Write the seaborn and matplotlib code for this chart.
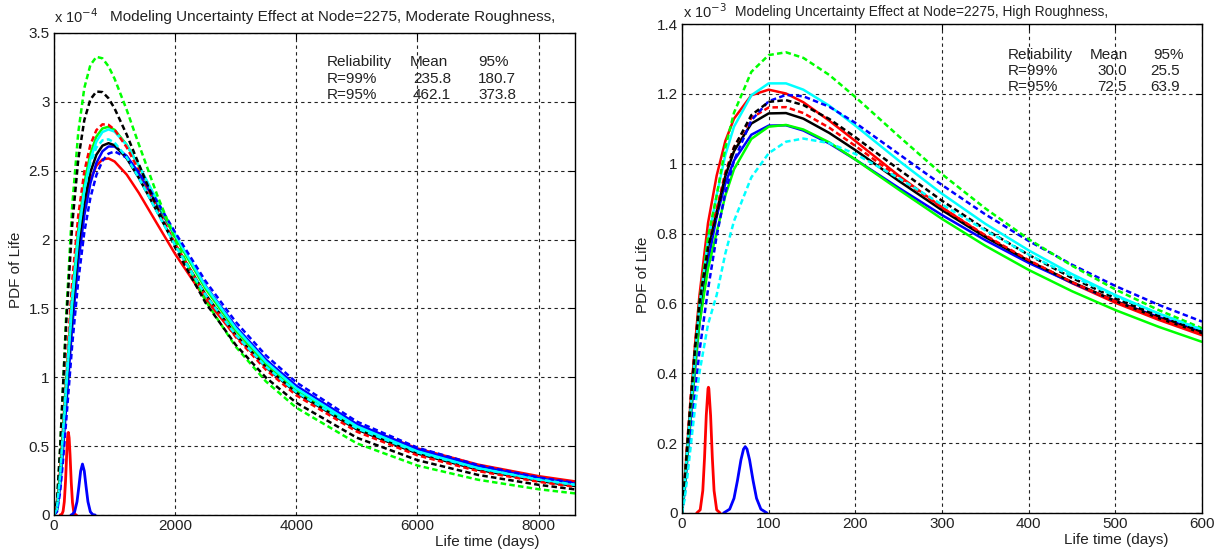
import numpy as np
import pandas as pd
import matplotlib
matplotlib.use("Agg")
import matplotlib.pyplot as plt
import seaborn as sns

# ---------------- data: left panel (Moderate roughness), PDF in units of 1e-4 ----------------
XL = [0, 50, 100, 150, 200, 300, 400, 500, 600, 700, 800, 900, 1000, 1200, 1400, 1700,
      2000, 2500, 3000, 3500, 4000, 5000, 6000, 7000, 8000, 8600]
L_green_dash = [0, 0.090, 0.458, 0.948, 1.435, 2.239, 2.776, 3.100, 3.267, 3.327, 3.316, 3.258, 3.168, 2.942, 2.692, 2.327, 2.000, 1.556, 1.222, 0.969, 0.779, 0.520, 0.359, 0.256, 0.187, 0.157]
L_black_dash = [0, 0.104, 0.474, 0.938, 1.384, 2.105, 2.580, 2.867, 3.017, 3.075, 3.071, 3.026, 2.952, 2.762, 2.548, 2.231, 1.942, 1.542, 1.235, 0.997, 0.815, 0.561, 0.398, 0.291, 0.219, 0.186]
L_red_dash = [0, 0.059, 0.314, 0.672, 1.044, 1.697, 2.173, 2.493, 2.688, 2.795, 2.837, 2.833, 2.798, 2.670, 2.501, 2.231, 1.969, 1.592, 1.292, 1.054, 0.869, 0.605, 0.433, 0.319, 0.241, 0.205]
L_green = [0, 0.048, 0.271, 0.599, 0.951, 1.590, 2.072, 2.408, 2.623, 2.748, 2.807, 2.819, 2.797, 2.689, 2.535, 2.276, 2.020, 1.644, 1.340, 1.097, 0.907, 0.633, 0.455, 0.335, 0.253, 0.216]
L_cyan = [0, 0.043, 0.251, 0.563, 0.904, 1.532, 2.015, 2.357, 2.580, 2.713, 2.781, 2.800, 2.784, 2.686, 2.539, 2.287, 2.035, 1.661, 1.356, 1.112, 0.920, 0.644, 0.462, 0.341, 0.257, 0.219]
L_cyan_dash = [0, 0.054, 0.289, 0.620, 0.968, 1.586, 2.043, 2.357, 2.556, 2.669, 2.721, 2.728, 2.704, 2.597, 2.449, 2.201, 1.957, 1.599, 1.308, 1.076, 0.893, 0.629, 0.455, 0.338, 0.257, 0.220]
L_black = [0, 0.042, 0.242, 0.543, 0.871, 1.478, 1.943, 2.273, 2.488, 2.616, 2.682, 2.700, 2.685, 2.590, 2.448, 2.205, 1.962, 1.602, 1.308, 1.072, 0.887, 0.621, 0.446, 0.329, 0.248, 0.211]
L_blue = [0, 0.033, 0.204, 0.476, 0.781, 1.366, 1.833, 2.175, 2.408, 2.556, 2.641, 2.676, 2.676, 2.607, 2.483, 2.257, 2.022, 1.665, 1.369, 1.128, 0.938, 0.660, 0.477, 0.353, 0.267, 0.228]
L_red = [0, 0.066, 0.316, 0.646, 0.980, 1.556, 1.974, 2.257, 2.435, 2.536, 2.582, 2.589, 2.567, 2.472, 2.339, 2.116, 1.895, 1.568, 1.299, 1.082, 0.908, 0.654, 0.483, 0.366, 0.282, 0.244]
L_blue_dash = [0, 0.024, 0.163, 0.399, 0.677, 1.233, 1.698, 2.052, 2.302, 2.469, 2.572, 2.624, 2.640, 2.595, 2.488, 2.278, 2.052, 1.699, 1.402, 1.158, 0.963, 0.678, 0.489, 0.362, 0.273, 0.233]

L_spike_red_x = [100, 130, 150, 170, 190, 210, 225, 237, 250, 265, 285, 305, 325, 345, 370]
L_spike_red_y = [0, 0.006, 0.027, 0.096, 0.243, 0.446, 0.566, 0.600, 0.560, 0.436, 0.235, 0.091, 0.025, 0.005, 0]
L_spike_blue_x = [280, 300, 340, 380, 410, 440, 470, 500, 530, 560, 600, 640, 680]
L_spike_blue_y = [0, 0.003, 0.023, 0.097, 0.204, 0.319, 0.370, 0.319, 0.204, 0.097, 0.023, 0.003, 0]

# ---------------- data: right panel (High roughness), PDF in units of 1e-3 ----------------
XR = [0, 3, 6, 10, 15, 20, 30, 40, 50, 60, 80, 100, 120, 140, 170, 200, 250, 300, 350, 400, 450, 500, 550, 600]
R_green_dash = [0, 0.08, 0.18, 0.31, 0.46, 0.60, 0.79, 0.909, 1.046, 1.146, 1.263, 1.311, 1.319, 1.303, 1.254, 1.191, 1.079, 0.970, 0.872, 0.784, 0.708, 0.640, 0.581, 0.529]
R_blue_dash = [0, 0.05, 0.12, 0.22, 0.34, 0.46, 0.64, 0.793, 0.917, 1.009, 1.124, 1.179, 1.197, 1.193, 1.163, 1.117, 1.028, 0.939, 0.855, 0.779, 0.711, 0.650, 0.596, 0.548]
R_cyan = [0, 0.08, 0.18, 0.30, 0.45, 0.59, 0.78, 0.910, 1.025, 1.106, 1.196, 1.230, 1.230, 1.212, 1.166, 1.109, 1.009, 0.914, 0.828, 0.752, 0.684, 0.624, 0.571, 0.525]
R_red = [0, 0.09, 0.19, 0.32, 0.48, 0.62, 0.83, 0.966, 1.065, 1.129, 1.196, 1.212, 1.201, 1.176, 1.123, 1.065, 0.966, 0.875, 0.793, 0.721, 0.658, 0.602, 0.553, 0.509]
R_black_dash = [0, 0.09, 0.19, 0.32, 0.47, 0.60, 0.76, 0.852, 0.966, 1.046, 1.139, 1.177, 1.182, 1.168, 1.128, 1.076, 0.984, 0.894, 0.812, 0.739, 0.673, 0.615, 0.564, 0.519]
R_red_dash = [0, 0.10, 0.20, 0.33, 0.48, 0.61, 0.77, 0.870, 0.975, 1.048, 1.131, 1.161, 1.162, 1.145, 1.103, 1.051, 0.961, 0.874, 0.795, 0.724, 0.661, 0.606, 0.556, 0.513]
R_black = [0, 0.08, 0.18, 0.30, 0.45, 0.58, 0.76, 0.863, 0.965, 1.036, 1.115, 1.144, 1.145, 1.129, 1.088, 1.039, 0.951, 0.867, 0.790, 0.722, 0.661, 0.607, 0.558, 0.515]
R_blue = [0, 0.06, 0.15, 0.27, 0.41, 0.54, 0.72, 0.849, 0.944, 1.009, 1.083, 1.109, 1.110, 1.095, 1.058, 1.012, 0.931, 0.853, 0.781, 0.716, 0.659, 0.607, 0.561, 0.520]
R_green = [0, 0.07, 0.16, 0.28, 0.42, 0.54, 0.70, 0.803, 0.909, 0.984, 1.071, 1.106, 1.111, 1.098, 1.061, 1.012, 0.926, 0.842, 0.765, 0.696, 0.635, 0.581, 0.533, 0.490]
R_cyan_dash = [0, 0.04, 0.10, 0.19, 0.30, 0.40, 0.54, 0.624, 0.743, 0.836, 0.961, 1.030, 1.063, 1.072, 1.059, 1.028, 0.959, 0.883, 0.809, 0.740, 0.678, 0.621, 0.571, 0.525]

R_spike_red_x = [17, 21, 24, 26, 28, 30, 30.5, 31, 33, 35, 37, 40, 44]
R_spike_red_y = [0, 0.009, 0.064, 0.158, 0.279, 0.356, 0.360, 0.356, 0.279, 0.158, 0.064, 0.009, 0]
R_spike_blue_x = [48, 55, 60, 64, 68, 71, 73, 75, 78, 82, 86, 91, 98]
R_spike_blue_y = [0, 0.011, 0.042, 0.093, 0.152, 0.183, 0.190, 0.183, 0.152, 0.093, 0.042, 0.011, 0]

# tick labels / text
L_xticks = [0, 2000, 4000, 6000, 8000]
L_yticks = [0, 0.5, 1, 1.5, 2, 2.5, 3, 3.5]
L_yticklabels = ["0", "0.5", "1", "1.5", "2", "2.5", "3", "3.5"]
R_xticks = [0, 100, 200, 300, 400, 500, 600]
R_yticks = [0, 0.2, 0.4, 0.6, 0.8, 1.0, 1.2, 1.4]
R_yticklabels = ["0", "0.2", "0.4", "0.6", "0.8", "1", "1.2", "1.4"]

L_title = "Modeling Uncertainty Effect at Node=2275, Moderate Roughness,"
R_title = "Modeling Uncertainty Effect at Node=2275, High Roughness,"
L_table = [["Reliability", "Mean", "95%"], ["R=99%", "235.8", "180.7"], ["R=95%", "462.1", "373.8"]]
R_table = [["Reliability", "Mean", "95%"], ["R=99%", "30.0", "25.5"], ["R=95%", "72.5", "63.9"]]

# ---------------- styling ----------------
sns.set_style("white")
plt.rcParams['font.family'] = ['Liberation Sans', 'DejaVu Sans']

W, H = 1217, 554
fig = plt.figure(figsize=(W / 100, H / 100), dpi=100)

def fx(px):
    return px / W

def fy(py):
    return 1 - py / H

axL = fig.add_axes([fx(54), fy(515), fx(575) - fx(54), fy(33) - fy(515)])
axR = fig.add_axes([fx(682), fy(513), fx(1202) - fx(682), fy(24) - fy(513)])

RED, BLUE, GREEN, BLACK, CYAN = "#ff0000", "#0000ff", "#00ff00", "#000000", "#00ffff"
DASH = (2.2, 1.3)
LW = 1.8

def draw(ax, x, series):
    for vals, color, dashed in series:
        sns.lineplot(x=x, y=vals, ax=ax, color=color, linewidth=LW, sort=False,
                     estimator=None, legend=False)
        line = ax.lines[-1]
        if dashed:
            line.set_dashes(DASH)

left_series = [
    (L_red, RED, False), (L_blue, BLUE, False), (L_green, GREEN, False),
    (L_black, BLACK, False), (L_cyan, CYAN, False),
    (L_red_dash, RED, True), (L_blue_dash, BLUE, True), (L_green_dash, GREEN, True),
    (L_black_dash, BLACK, True), (L_cyan_dash, CYAN, True),
]
right_series = [
    (R_red, RED, False), (R_blue, BLUE, False), (R_green, GREEN, False),
    (R_black, BLACK, False), (R_cyan, CYAN, False),
    (R_red_dash, RED, True), (R_blue_dash, BLUE, True), (R_green_dash, GREEN, True),
    (R_black_dash, BLACK, True), (R_cyan_dash, CYAN, True),
]
draw(axL, XL, left_series)
draw(axR, XR, right_series)

for ax, xs, ys, color in [(axL, L_spike_red_x, L_spike_red_y, RED), (axL, L_spike_blue_x, L_spike_blue_y, BLUE),
                          (axR, R_spike_red_x, R_spike_red_y, RED), (axR, R_spike_blue_x, R_spike_blue_y, BLUE)]:
    sns.lineplot(x=xs, y=ys, ax=ax, color=color, linewidth=2.0, sort=False, estimator=None, legend=False)

def style(ax, xlim, ylim, xt, yt, ytl):
    ax.set_xlim(*xlim)
    ax.set_ylim(*ylim)
    ax.set_xticks(xt)
    ax.set_xticklabels([str(v) for v in xt])
    ax.set_yticks(yt)
    ax.set_yticklabels(ytl)
    ax.grid(True, color="#222222", linestyle=(0, (3, 3)), linewidth=0.8)
    ax.set_axisbelow(True)
    ax.tick_params(direction="in", length=4, width=0.8, labelsize=11, colors="black",
                   top=True, right=True, pad=3)
    ax.tick_params(axis="both", which="both", labelcolor="#222222")
    for s in ax.spines.values():
        s.set_visible(True)
        s.set_color("black")
        s.set_linewidth(1.0)
    ax.set_xlabel("")
    ax.set_ylabel("")

style(axL, (0, 8600), (0, 3.5), L_xticks, L_yticks, L_yticklabels)
style(axR, (0, 600), (0, 1.4), R_xticks, R_yticks, R_yticklabels)

# offset exponents + titles
fig.text(fx(54), fy(17), r"x 10$^{-4}$", fontsize=10.5, va="center", ha="left", color="#222222")
fig.text(fx(110), fy(17), L_title, fontsize=11.0, va="center", ha="left", color="#222222")
fig.text(fx(683), fy(12), r"x 10$^{-3}$", fontsize=10.5, va="center", ha="left", color="#222222")
fig.text(fx(735), fy(12), R_title, fontsize=9.9, va="center", ha="left", color="#222222")

# axis labels
fig.text(fx(487), fy(542), "Life time (days)", fontsize=11, ha="center", va="center", color="#222222")
fig.text(fx(1116), fy(540), "Life time (days)", fontsize=11, ha="center", va="center", color="#222222")
fig.text(fx(16), fy(270), "PDF of Life", fontsize=11, ha="center", va="center", rotation=90, color="#222222")
fig.text(fx(643), fy(275), "PDF of Life", fontsize=11, ha="center", va="center", rotation=90, color="#222222")

# tables
for table, cols, rows in [(L_table, [[327, 410, 478], [327, 413, 478], [327, 413, 478]], [62, 79, 95]),
                          (R_table, [[1008, 1090, 1153], [1008, 1097, 1150], [1008, 1097, 1150]], [55, 71, 87])]:
    for r, row in enumerate(table):
        for c, txt in enumerate(row):
            fig.text(fx(cols[r][c]), fy(rows[r]), txt, fontsize=11, ha="left", va="center", color="#222222")

fig.savefig("out.png", dpi=100)
